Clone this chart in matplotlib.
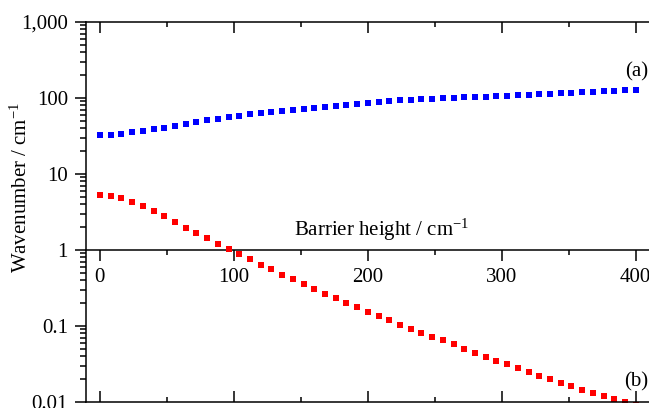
import matplotlib
matplotlib.use("Agg")
import matplotlib.pyplot as plt
from matplotlib.ticker import FixedLocator, FixedFormatter, LogLocator, NullFormatter

plt.rcParams['font.family'] = ['Liberation Serif', 'DejaVu Serif']
plt.rcParams['mathtext.fontset'] = 'custom'
plt.rcParams['mathtext.rm'] = 'Liberation Serif'
plt.rcParams['mathtext.it'] = 'Liberation Serif:italic'
plt.rcParams['axes.unicode_minus'] = False

barrier = [0, 8, 16, 24, 32, 40, 48, 56, 64, 72, 80, 88, 96, 104, 112, 120, 128,
           136, 144, 152, 160, 168, 176, 184, 192, 200, 208, 216, 224, 232, 240,
           248, 256, 264, 272, 280, 288, 296, 304, 312, 320, 328, 336, 344, 352,
           360, 368, 376, 384, 392, 400]

series_a = [32.3, 32.9, 33.9, 35.4, 36.8, 38.8, 40.6, 43.2, 45.9, 48.3,
            50.9, 53.4, 56.2, 58.5, 61.0, 63.5, 66.1, 68.1, 70.2, 72.3,
            74.5, 76.8, 79.2, 81.2, 84.0, 86.8, 89.0, 91.0, 92.8, 94.3,
            95.6, 97.1, 99.0, 100.2, 101.6, 103.1, 104.4, 106.0, 107.4, 109.2,
            110.6, 112.6, 114.0, 115.4, 116.8, 118.8, 120.2, 122.4, 123.8, 126.0,
            127.6]

series_b = [5.29, 5.18, 4.83, 4.32, 3.79, 3.29, 2.80, 2.36, 1.96, 1.69,
            1.43, 1.21, 1.04, 0.886, 0.762, 0.641, 0.562, 0.473, 0.411, 0.354,
            0.307, 0.266, 0.231, 0.203, 0.176, 0.153, 0.134, 0.119, 0.104, 0.0914,
            0.0817, 0.0723, 0.0645, 0.0574, 0.0498, 0.0441, 0.0391, 0.0349, 0.0316, 0.0280,
            0.0251, 0.0222, 0.0199, 0.0178, 0.0161, 0.0145, 0.0133, 0.0119, 0.0109, 0.0100,
            0.0092]

x_major = [0, 100, 200, 300, 400]
x_minor = [50, 150, 250, 350]
x_labels = ['0', '100', '200', '300', '400']
y_major = [0.01, 0.1, 1, 10, 100, 1000]
y_labels = ['0.01', '0.1', '1', '10', '100', '1,000']

FS = 15

fig = plt.figure(figsize=(6.49, 4.08), dpi=100)
ax = fig.add_axes([86/649, 1 - 402/408, (649 - 86)/649 + 0.02, (402 - 22)/408])

ax.plot(barrier, series_a, linestyle='none', marker='s', markersize=4.8,
        color='#0000ff', markeredgewidth=0)
ax.plot(barrier, series_b, linestyle='none', marker='s', markersize=4.4,
        color='#ff0000', markeredgewidth=0)

ax.set_yscale('log')
ax.set_ylim(0.01, 1000)
ax.set_xlim(-10.4, 410 + 0.02 * 649 / 1.343)

ax.yaxis.set_major_locator(FixedLocator(y_major))
ax.yaxis.set_major_formatter(FixedFormatter(y_labels))
ax.yaxis.set_minor_locator(LogLocator(base=10, subs=range(2, 10)))
ax.yaxis.set_minor_formatter(NullFormatter())

ax.xaxis.set_major_locator(FixedLocator(x_major))
ax.xaxis.set_minor_locator(FixedLocator(x_minor))
ax.tick_params(axis='x', which='both', direction='in', top=True, bottom=True,
               labelbottom=False, labeltop=False)
ax.tick_params(axis='x', which='major', length=8, width=1.1)
ax.tick_params(axis='x', which='minor', length=3.8, width=1.1)
ax.tick_params(axis='y', which='major', direction='out', length=8, width=1.1,
               labelsize=FS, pad=5)
ax.tick_params(axis='y', which='minor', direction='out', length=4, width=1.1)

for s in ['left', 'top', 'bottom']:
    ax.spines[s].set_linewidth(1.1)
ax.spines['right'].set_visible(False)

sec = ax.secondary_xaxis(0.4)
sec.set_xticks(x_major)
sec.set_xticklabels(x_labels)
sec.xaxis.set_minor_locator(FixedLocator(x_minor))
sec.tick_params(axis='x', which='both', direction='out', labelsize=FS)
sec.tick_params(axis='x', which='major', length=8, width=1.1, pad=5)
sec.tick_params(axis='x', which='minor', length=3.8, width=1.1)
sec.spines['bottom'].set_linewidth(1.1)

ax.set_ylabel('Wavenumber / cm$^{-1}$', fontsize=FS)
ax.yaxis.set_label_coords(-0.094, 0.565)

ax.text(210, 1.85, 'Barrier height / cm$^{-1}$', fontsize=FS,
        ha='center', va='center')
ax.text(648 / 649, 1 - 72 / 408, '(a)', fontsize=FS, ha='right', va='center',
        transform=fig.transFigure)
ax.text(648 / 649, 1 - 382 / 408, '(b)', fontsize=FS, ha='right', va='center',
        transform=fig.transFigure)

fig.savefig('out.png', dpi=100)
